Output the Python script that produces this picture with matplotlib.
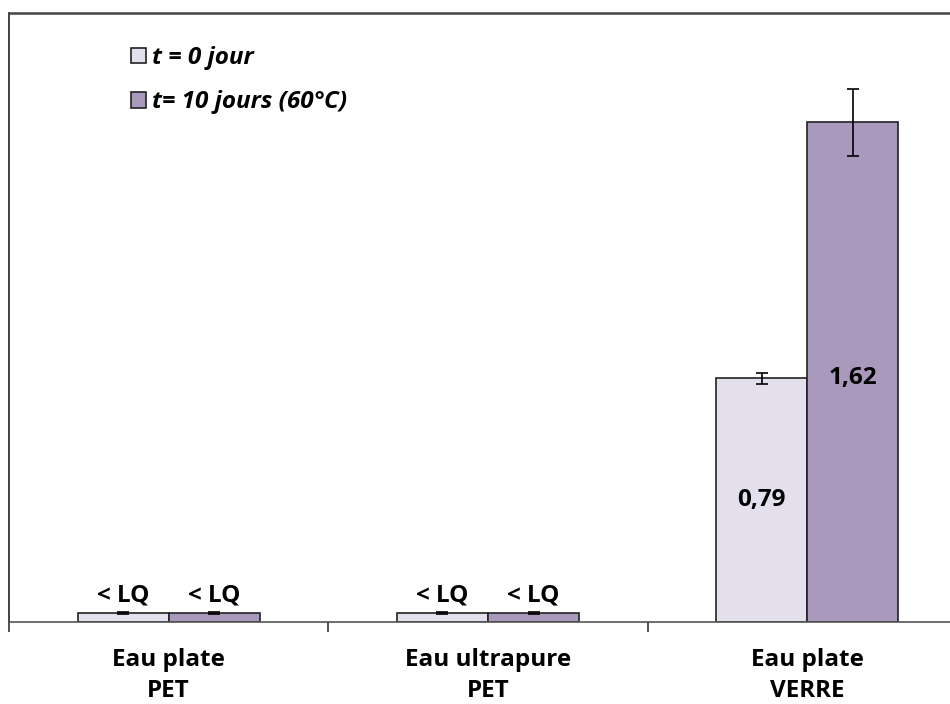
import matplotlib.pyplot as plt
import numpy as np
from matplotlib.patches import Patch

# données
categories = ['Eau plate\nPET', 'Eau ultrapure\nPET', 'Eau plate\nVERRE']
t0_values = [0.03, 0.03, 0.79]
t10_values = [0.03, 0.03, 1.62]
t0_err = [0.003, 0.003, 0.018]
t10_err = [0.003, 0.003, 0.108]
t0_labels = ['< LQ', '< LQ', '0,79']
t10_labels = ['< LQ', '< LQ', '1,62']
series_names = ['t = 0 jour', 't= 10 jours (60°C)']

light = '#E4DFEC'
dark = '#A99ABD'
plt.rcParams['font.family'] = ['Open Sans', 'DejaVu Sans']

fig = plt.figure(figsize=(9.5, 7.04), dpi=100)
ax = fig.add_axes([9 / 950, 82 / 704, 958 / 950, 609 / 704])

x = np.arange(len(categories))
w = 0.285
fs = 17.5
err_kw = dict(ecolor='black', elinewidth=1.2, capsize=4.5, capthick=1.2)
ax.bar(x - w / 2, t0_values, w, yerr=t0_err, color=light,
       edgecolor='#222222', linewidth=1.2, error_kw=err_kw)
ax.bar(x + w / 2, t10_values, w, yerr=t10_err, color=dark,
       edgecolor='#222222', linewidth=1.2, error_kw=err_kw)

# étiquettes
for i in range(len(categories)):
    if t0_labels[i] == '< LQ':
        ax.text(x[i] - w / 2, t0_values[i] + 0.016, t0_labels[i], ha='center', va='bottom',
                fontsize=fs, fontweight='bold')
        ax.text(x[i] + w / 2, t10_values[i] + 0.016, t10_labels[i], ha='center', va='bottom',
                fontsize=fs, fontweight='bold')
    else:
        ax.text(x[i] - w / 2, t0_values[i] / 2, t0_labels[i], ha='center', va='center',
                fontsize=fs, fontweight='bold')
        ax.text(x[i] + w / 2, t0_values[i], t10_labels[i], ha='center', va='center',
                fontsize=fs, fontweight='bold')

ax.set_xlim(-0.5, 2.5)
ax.set_ylim(0, 1.975)
ax.set_yticks([])
ax.set_xticks([-0.5, 0.5, 1.5, 2.5])
ax.set_xticklabels([])
ax.set_xticks(x, minor=True)
ax.set_xticklabels(categories, minor=True, fontsize=fs, fontweight='bold', linespacing=1.35)
ax.tick_params(axis='x', which='major', direction='out', length=7.5, width=1.2, color='#333333')
ax.tick_params(axis='x', which='minor', length=0, pad=19)

ax.spines['right'].set_visible(False)
ax.spines['top'].set_color('#444444')
ax.spines['top'].set_linewidth(1.8)
ax.spines['left'].set_color('#222222')
ax.spines['left'].set_linewidth(1.2)
ax.spines['bottom'].set_color('#555555')
ax.spines['bottom'].set_linewidth(1.2)

handles = [Patch(facecolor=light, edgecolor='#222222', linewidth=1.2),
           Patch(facecolor=dark, edgecolor='#222222', linewidth=1.2)]
ax.legend(handles, series_names, loc='upper left', bbox_to_anchor=(0.105, 0.982),
          frameon=False, handlelength=0.6, handleheight=0.6, handletextpad=0.25,
          labelspacing=0.85, prop=dict(family='Open Sans', weight='bold', style='italic', size=17.5))

fig.savefig('out.png', dpi=100)
